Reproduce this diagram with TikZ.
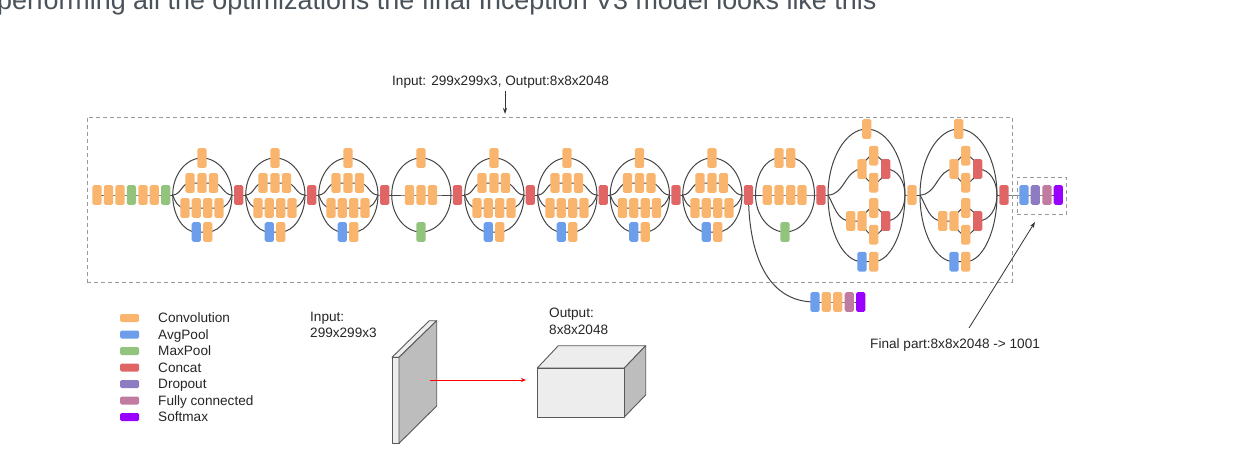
\documentclass[tikz,border=0pt]{standalone}
\usepackage{fontspec}
\setmainfont{Liberation Sans}
\usetikzlibrary{backgrounds,arrows.meta}
\definecolor{cconv}{HTML}{F9B56E}
\definecolor{cavg}{HTML}{6D9EEB}
\definecolor{cmax}{HTML}{93C47D}
\definecolor{ccat}{HTML}{E06666}
\definecolor{cdrop}{HTML}{8E7CC3}
\definecolor{cfc}{HTML}{C27BA0}
\definecolor{csoft}{HTML}{9900FF}
\definecolor{cline}{HTML}{444444}
\definecolor{chead}{HTML}{4A525A}
\tikzset{
  blk/.style={rectangle,rounded corners=1.6pt,minimum width=9.2pt,minimum height=19.6pt,inner sep=0pt,draw=none},
  conv/.style={blk,fill=cconv},
  avg/.style={blk,fill=cavg},
  maxp/.style={blk,fill=cmax},
  cat/.style={blk,fill=ccat},
  drp/.style={blk,fill=cdrop},
  fc/.style={blk,fill=cfc},
  soft/.style={blk,fill=csoft},
  link/.style={draw=cline,line width=1pt},
  dashbox/.style={draw=black!40,line width=0.8pt,dash pattern=on 4pt off 3pt},
  swatch/.style={rectangle,rounded corners=1.5pt,minimum width=19pt,minimum height=8pt,inner sep=0pt},
  txt/.style={inner sep=0pt,text=black!85,font=\fontsize{13.6}{16.2}\selectfont,align=left},
  note/.style={draw=black!80,line width=0.8pt,-{Stealth[length=6pt,width=4pt]}},
  solid3d/.style={draw=black!65,line width=0.9pt,line join=round}
}
% module with 1+3+4+2 branches
\newcommand\modA[2]{%
  \coordinate (m#1l) at (#2-29.3,195);
  \coordinate (m#1r) at (#2+30,195);
  \node[conv] (m#1t) at (#2,158) {};
  \node[conv] (m#1a) at (#2-12,183) {};
  \node[conv] (m#1b) at (#2,183) {};
  \node[conv] (m#1c) at (#2+11.5,183) {};
  \node[conv] (m#1d) at (#2-17,208) {};
  \node[conv] (m#1e) at (#2-5.7,208) {};
  \node[conv] (m#1f) at (#2+5.7,208) {};
  \node[conv] (m#1g) at (#2+17,208) {};
  \node[avg] (m#1h) at (#2-5.7,232) {};
  \node[conv] (m#1i) at (#2+5.7,232) {};
  \begin{scope}[on background layer]
    \draw[link] (m#1l) .. controls +(0,-20.3) and +(-16,0) .. (m#1t.center) .. controls +(16,0) and +(0,-20.3) .. (m#1r);
    \draw[link] (m#1l) .. controls +(0,20.3) and +(-13,0) .. (m#1h.center) -- (m#1i.center) .. controls +(13,0) and +(0,20.3) .. (m#1r);
    \draw[link] (m#1l) to[out=0,in=180] (m#1a.center) -- (m#1b.center) -- (m#1c.center) to[out=0,in=180] (m#1r);
    \draw[link] (m#1l) to[out=-70,in=180] (m#1d.center) -- (m#1e.center) -- (m#1f.center) -- (m#1g.center) to[out=0,in=-110] (m#1r);
  \end{scope}
}
% reduction module 1+3+1
\newcommand\modB[2]{%
  \coordinate (m#1l) at (#2-29.3,195);
  \coordinate (m#1r) at (#2+30,195);
  \node[conv] (m#1t) at (#2,158) {};
  \node[conv] (m#1a) at (#2-11.5,195) {};
  \node[conv] (m#1b) at (#2,195) {};
  \node[conv] (m#1c) at (#2+11.5,195) {};
  \node[maxp] (m#1h) at (#2,232) {};
  \begin{scope}[on background layer]
    \draw[link] (m#1l) .. controls +(0,-20.3) and +(-16,0) .. (m#1t.center) .. controls +(16,0) and +(0,-20.3) .. (m#1r);
    \draw[link] (m#1l) .. controls +(0,20.3) and +(-16,0) .. (m#1h.center) .. controls +(16,0) and +(0,20.3) .. (m#1r);
    \draw[link] (m#1l) -- (m#1a.center) -- (m#1b.center) -- (m#1c.center) -- (m#1r);
  \end{scope}
}
% large module with nested branches
\newcommand\modC[2]{%
  \coordinate (m#1l) at (#2-38.7,195);
  \coordinate (m#1r) at (#2+38.3,195);
  \node[conv] (m#1t) at (#2,129) {};
  \node[conv] (m#1a) at (#2-4.7,169) {};
  \node[conv] (m#1b) at (#2+7,155.7) {};
  \node[conv] (m#1c) at (#2+7,182.7) {};
  \node[cat] (m#1d) at (#2+19,169) {};
  \node[conv] (m#1e) at (#2-16,221) {};
  \node[conv] (m#1f) at (#2-4.7,221) {};
  \node[conv] (m#1g) at (#2+7,208) {};
  \node[conv] (m#1h) at (#2+7,234.7) {};
  \node[cat] (m#1i) at (#2+19,221) {};
  \node[avg] (m#1j) at (#2-4.7,261.7) {};
  \node[conv] (m#1k) at (#2+7,261.7) {};
  \begin{scope}[on background layer]
    \draw[link] (m#1l) .. controls +(0,-36) and +(-21,0) .. (m#1t.center) .. controls +(21,0) and +(0,-36) .. (m#1r);
    \draw[link] (m#1l) .. controls +(0,36) and +(-19,0) .. (m#1j.center) -- (m#1k.center) .. controls +(17,0) and +(0,36) .. (m#1r);
    \draw[link] (m#1l) to[out=0,in=180] (m#1a.center);
    \draw[link] (m#1l) to[out=-60,in=180] (m#1e.center) -- (m#1f.center);
    \draw[link] (m#1a.center) to[out=70,in=180] (m#1b.center) to[out=0,in=110] (m#1d.center);
    \draw[link] (m#1a.center) to[out=-70,in=180] (m#1c.center) to[out=0,in=-110] (m#1d.center);
    \draw[link] (m#1f.center) to[out=70,in=180] (m#1g.center) to[out=0,in=110] (m#1i.center);
    \draw[link] (m#1f.center) to[out=-70,in=180] (m#1h.center) to[out=0,in=-110] (m#1i.center);
    \draw[link] (m#1d.center) to[out=0,in=90] (m#1r);
    \draw[link] (m#1i.center) to[out=0,in=-90] (m#1r);
  \end{scope}
}
\begin{document}
\begin{tikzpicture}[x=1pt,y=-1pt]
\useasboundingbox (0,0) rectangle (1240,460);
\begin{pgfonlayer}{background}
  \fill[white] (0,0) rectangle (1240,460);
\end{pgfonlayer}
\begin{scope}
\clip (0,0) rectangle (1240,460);
\node[anchor=base west,inner sep=0pt,text=chead,font=\fontsize{26.9}{30}\selectfont] (head) at (-3,9.5) {performing all the optimizations the final Inception V3 model looks like this};
\end{scope}

% dashed frames
\node[dashbox,rectangle,minimum width=925pt,minimum height=165pt,inner sep=0pt] (frame) at (549.5,199.5) {};
\node[dashbox,rectangle,minimum width=49.7pt,minimum height=37pt,inner sep=0pt] (finalbox) at (1041.8,195.5) {};

% stem
\node[conv] (s1) at (97,195) {};
\node[conv] (s2) at (108.5,195) {};
\node[conv] (s3) at (120,195) {};
\node[maxp] (s4) at (131.4,195) {};
\node[conv] (s5) at (143,195) {};
\node[conv] (s6) at (154.3,195) {};
\node[maxp] (s7) at (165.7,195) {};

\modA{1}{202}
\node[cat] (c1) at (238.7,195) {};
\modA{2}{275}
\node[cat] (c2) at (311.7,195) {};
\modA{3}{348}
\node[cat] (c3) at (384.7,195) {};
\modB{4}{421}
\node[cat] (c4) at (457.5,195) {};
\modA{5}{494}
\node[cat] (c5) at (530.3,195) {};
\modA{6}{567}
\node[cat] (c6) at (603.2,195) {};
\modA{7}{639.5}
\node[cat] (c7) at (676,195) {};
\modA{8}{712}
\node[cat] (c8) at (748.5,195) {};

% module 9
\coordinate (m9l) at (755.5,195);
\coordinate (m9r) at (814.5,195);
\node[conv] (m9t) at (779,158) {};
\node[conv] (m9u) at (790.7,158) {};
\node[conv] (m9a) at (767.3,195) {};
\node[conv] (m9b) at (779,195) {};
\node[conv] (m9c) at (790.7,195) {};
\node[conv] (m9d) at (802,195) {};
\node[maxp] (m9h) at (785,232) {};
\node[cat] (c9) at (821,195) {};

\modC{10}{866.7}
\node[conv] (x1) at (912,195) {};
\modC{11}{958.7}
\node[cat] (c11) at (1004,195) {};

% classifier
\node[avg] (f1) at (1024,195) {};
\node[drp] (f2) at (1035.3,195) {};
\node[fc] (f3) at (1047,195) {};
\node[soft] (f4) at (1058.3,195) {};

% auxiliary classifier
\node[avg] (a1) at (815,302) {};
\node[conv] (a2) at (826.3,302) {};
\node[conv] (a3) at (837.7,302) {};
\node[fc] (a4) at (849.3,302) {};
\node[soft] (a5) at (860.7,302) {};

\begin{scope}[on background layer]
  \draw[link] (s1.center) -- (s2.center) -- (s3.center) -- (s4.center) -- (s5.center) -- (s6.center) -- (s7.center) -- (m1l);
  \draw[link] (m1r) -- (c1.center) -- (m2l);
  \draw[link] (m2r) -- (c2.center) -- (m3l);
  \draw[link] (m3r) -- (c3.center) -- (m4l);
  \draw[link] (m4r) -- (c4.center) -- (m5l);
  \draw[link] (m5r) -- (c5.center) -- (m6l);
  \draw[link] (m6r) -- (c6.center) -- (m7l);
  \draw[link] (m7r) -- (c7.center) -- (m8l);
  \draw[link] (m8r) -- (c8.center) -- (m9l);
  \draw[link] (m9l) .. controls +(0,-20.3) and +(-13,0) .. (m9t.center) -- (m9u.center) .. controls +(13,0) and +(0,-20.3) .. (m9r);
  \draw[link] (m9l) .. controls +(0,20.3) and +(-16,0) .. (m9h.center) .. controls +(16,0) and +(0,20.3) .. (m9r);
  \draw[link] (m9l) -- (m9a.center) -- (m9b.center) -- (m9c.center) -- (m9d.center) -- (m9r) -- (c9.center) -- (m10l);
  \draw[link] (m10r) -- (x1.center) -- (m11l);
  \draw[link] (m11r) -- (c11.center) -- (f1.center) -- (f2.center) -- (f3.center) -- (f4.center);
  \draw[link] (c8.center) to[out=-90,in=180,looseness=1.05] (a1.center);
  \draw[link] (a1.center) -- (a2.center) -- (a3.center) -- (a4.center) -- (a5.center);
\end{scope}

% annotations
\node[txt,anchor=base west] (toplabel) at (392,85) {Input: 299x299x3, Output:8x8x2048};
\coordinate (toptail) at (505,91);
\coordinate (toptip) at (505,114);
\draw[note] (toptail) -- (toptip);
\node[txt,anchor=base west] (finallabel) at (870,348) {Final part:8x8x2048 -> 1001};
\coordinate (finaltail) at (969,328);
\coordinate (finaltip) at (1035,222);
\draw[note] (finaltail) -- (finaltip);

% legend
\foreach \yy/\cc/\tt/\nn in {318/cconv/Convolution/a,334.5/cavg/AvgPool/b,351/cmax/MaxPool/c,367.5/ccat/Concat/d,384/cdrop/Dropout/e,400.5/cfc/Fully connected/f,417/csoft/Softmax/g}{
  \node[swatch,fill=\cc] (leg\nn) at (129.7,\yy) {};
  \node[txt,anchor=base west] (lab\nn) at (158,\yy+4.5) {\tt};
}

% input slab
\node[txt,anchor=base west] (inlabel) at (310,337.3) {Input:\\299x299x3};
\filldraw[solid3d,fill=black!7] (392,357.3) -- (399,357.3) -- (399,443.3) -- (392,443.3) -- cycle;
\filldraw[solid3d,fill=black!7] (392,357.3) -- (429.3,320.7) -- (436.7,320.7) -- (399,357.3) -- cycle;
\filldraw[solid3d,fill=black!26] (399,357.3) -- (436.7,320.7) -- (436.7,406) -- (399,443.3) -- cycle;

% output box
\node[txt,anchor=base west] (outlabel) at (549,334) {Output:\\8x8x2048};
\filldraw[solid3d,fill=black!7] (558.3,345.7) -- (645.7,345.7) -- (624.3,368) -- (537.3,368) -- cycle;
\filldraw[solid3d,fill=black!26] (624.3,368) -- (645.7,345.7) -- (645.7,395) -- (624.3,417) -- cycle;
\node[rectangle,draw=black!65,line width=0.9pt,fill=black!7,minimum width=87pt,minimum height=49pt,inner sep=0pt] (outbox) at (580.8,392.5) {};

\coordinate (redtail) at (430,380);
\coordinate (redtip) at (526,380);
\draw[red,line width=0.8pt,-{Stealth[length=5pt,width=4pt]}] (redtail) -- (redtip);
\end{tikzpicture}
\end{document}
